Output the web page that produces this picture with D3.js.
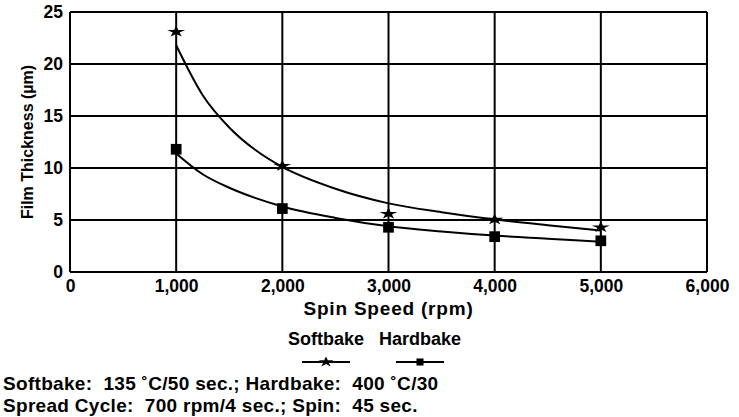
<!DOCTYPE html>
<html>
<head>
<meta charset="utf-8">
<script src="https://cdn.jsdelivr.net/npm/d3@7"></script>
<style>
  body { margin: 0; background: #fff; }
  svg text { font-family: "Liberation Sans", Arial, sans-serif; font-weight: bold; fill: #000; white-space: pre; }
</style>
</head>
<body>
<svg id="chart" width="739" height="417"></svg>
<script>
const speeds = [1000, 2000, 3000, 4000, 5000];
const softbake = [23.1, 10.2, 5.6, 5.05, 4.3];
const hardbake = [11.8, 6.1, 4.3, 3.4, 3.0];

// 추세 곡선 (그림에서 읽은 곡선 위치)
const fitSpeeds = [1000, 1250, 1500, 1750, 2000, 2500, 3000, 3500, 4000, 4500, 5000];
const softFit = [21.8, 17.0, 13.9, 11.7, 10.1, 8.0, 6.6, 5.75, 5.05, 4.5, 4.0];
const hardFit = [11.4, 9.4, 8.1, 7.1, 6.3, 5.2, 4.4, 3.9, 3.5, 3.2, 2.9];

const xTicks = [0, 1000, 2000, 3000, 4000, 5000, 6000];
const yTicks = [0, 5, 10, 15, 20, 25];
const notes = [
  "Softbake:  135 \u02DAC/50 sec.; Hardbake:  400 \u02DAC/30",
  "Spread Cycle:  700 rpm/4 sec.; Spin:  45 sec."
];

const svg = d3.select("#chart");
const x = d3.scaleLinear().domain([0, 6000]).range([70, 707]);
const y = d3.scaleLinear().domain([0, 25]).range([272, 12]);

// 격자
const grid = svg.append("g").attr("stroke", "#000").attr("stroke-width", 2);
grid.selectAll(".gx").data(xTicks).enter().append("line")
  .attr("x1", d => x(d)).attr("x2", d => x(d))
  .attr("y1", y(0)).attr("y2", y(25));
grid.selectAll(".gy").data(yTicks).enter().append("line")
  .attr("x1", x(0)).attr("x2", x(6000))
  .attr("y1", d => y(d)).attr("y2", d => y(d));

// 축 (눈금 라벨만)
const xAxis = svg.append("g")
  .attr("transform", `translate(0,${y(0)})`)
  .call(d3.axisBottom(x).tickValues(xTicks).tickSize(0).tickPadding(8)
    .tickFormat(d3.format(",")));
const yAxis = svg.append("g")
  .attr("transform", `translate(${x(0)},0)`)
  .call(d3.axisLeft(y).tickValues(yTicks).tickSize(0).tickPadding(7));
[xAxis, yAxis].forEach(a => {
  a.select(".domain").remove();
  a.selectAll("text").attr("font-size", 17.5).attr("font-family", null);
});

// 곡선
const line = d3.line()
  .x((d, i) => x(fitSpeeds[i]))
  .y(d => y(d))
  .curve(d3.curveMonotoneX);
[softFit, hardFit].forEach(s => {
  svg.append("path").attr("d", line(s))
    .attr("fill", "none").attr("stroke", "#000").attr("stroke-width", 2);
});

// 마커
const star = d3.symbol().type(d3.symbolStar).size(70);
const square = d3.symbol().type(d3.symbolSquare).size(115);
svg.append("g").selectAll("path").data(softbake).enter().append("path")
  .attr("d", star)
  .attr("transform", (d, i) => `translate(${x(speeds[i])},${y(d)}) scale(1.2,0.75)`);
svg.append("g").selectAll("path").data(hardbake).enter().append("path")
  .attr("d", square)
  .attr("transform", (d, i) => `translate(${x(speeds[i])},${y(d)})`);

// 축 제목
svg.append("text")
  .attr("x", x(3000)).attr("y", 315)
  .attr("text-anchor", "middle").attr("font-size", 19)
  .attr("letter-spacing", 0.8)
  .text("Spin Speed (rpm)");
svg.append("text")
  .attr("transform", `translate(33,${(y(0) + y(25)) / 2}) rotate(-90)`)
  .attr("text-anchor", "middle").attr("font-size", 16)
  .text("Film Thickness (\u00B5m)");

// 범례
const legend = [
  { name: "Softbake", cx: 326, sym: star, tf: "scale(1,0.7)" },
  { name: "Hardbake", cx: 420, sym: d3.symbol().type(d3.symbolSquare).size(50), tf: "" }
];
const lg = svg.append("g").selectAll("g").data(legend).enter().append("g");
lg.append("text")
  .attr("x", d => d.cx).attr("y", 345)
  .attr("text-anchor", "middle").attr("font-size", 18)
  .text(d => d.name);
lg.append("line")
  .attr("x1", d => d.cx - 24).attr("x2", d => d.cx + 24)
  .attr("y1", 362).attr("y2", 362)
  .attr("stroke", "#000").attr("stroke-width", 2);
lg.append("path")
  .attr("d", d => d.sym())
  .attr("transform", d => `translate(${d.cx},362) ${d.tf}`);

// 조건 메모
svg.append("g").selectAll("text").data(notes).enter().append("text")
  .attr("x", 3).attr("y", (d, i) => 390 + i * 22)
  .attr("font-size", 19).attr("letter-spacing", 0.3)
  .text(d => d);
</script>
</body>
</html>
